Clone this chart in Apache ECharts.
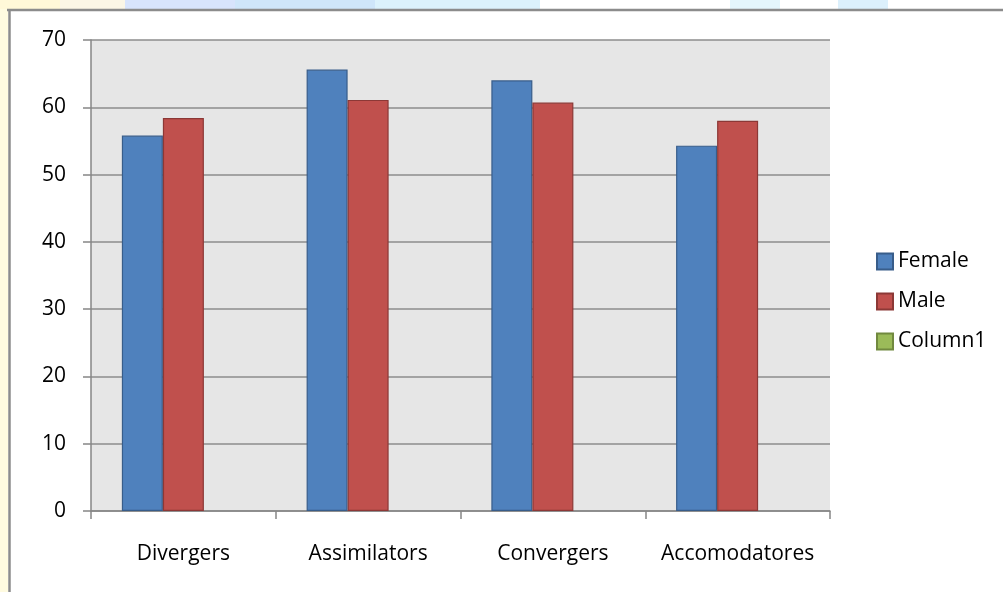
<!DOCTYPE html>
<html>
<head>
<meta charset="utf-8">
<script src="https://cdn.jsdelivr.net/npm/echarts@6/dist/echarts.min.js"></script>
<style>
html,body{margin:0;padding:0;background:#fff;}
#c{width:1003px;height:592px;}
</style>
</head>
<body>
<div id="c"></div>
<script>
const categories = ['Divergers', 'Assimilators', 'Convergers', 'Accomodatores'];
const female = [55.8, 65.6, 64.0, 54.3];
const male = [58.4, 61.1, 60.7, 58.0];
const column1 = [null, null, null, null];
const yTicks = [0, 10, 20, 30, 40, 50, 60, 70];

const FONT = 'Open Sans';
const FS = 21;
const chart = echarts.init(document.getElementById('c'), null, {renderer: 'canvas'});

const option = {
  animation: false,
  backgroundColor: '#ffffff',
  textStyle: {fontFamily: FONT},
  graphic: [
    {type: 'rect', z: -10, shape: {x: 0, y: 0, width: 8, height: 592}, style: {fill: '#fffbe0'}},
    {type: 'rect', z: -10, shape: {x: 0, y: 0, width: 125, height: 9}, style: {fill: '#fff8d8'}},
    {type: 'rect', z: -10, shape: {x: 60, y: 0, width: 65, height: 9}, style: {fill: '#fbf6e6'}},
    {type: 'rect', z: -10, shape: {x: 125, y: 0, width: 110, height: 9}, style: {fill: '#d8e4fc'}},
    {type: 'rect', z: -10, shape: {x: 235, y: 0, width: 140, height: 9}, style: {fill: '#cfe6fa'}},
    {type: 'rect', z: -10, shape: {x: 375, y: 0, width: 165, height: 9}, style: {fill: '#dcf2fc'}},
    {type: 'rect', z: -10, shape: {x: 730, y: 0, width: 50, height: 9}, style: {fill: '#e4f6fc'}},
    {type: 'rect', z: -10, shape: {x: 838, y: 0, width: 50, height: 9}, style: {fill: '#dcf0fc'}},
    {type: 'line', z: 10, shape: {x1: 7, y1: 10, x2: 1003, y2: 10}, style: {stroke: '#8c8c8c', lineWidth: 2.5}},
    {type: 'line', z: 10, shape: {x1: 9.5, y1: 9, x2: 9.5, y2: 592}, style: {stroke: '#8c8c8c', lineWidth: 2.5}}
  ],
  legend: {
    orient: 'vertical',
    left: 871,
    top: 246,
    itemWidth: 16,
    itemHeight: 16,
    itemGap: 19,
    icon: 'rect',
    textStyle: {fontFamily: FONT, fontSize: FS, color: '#000', padding: [0, 0, 0, 0]},
    data: ['Female', 'Male', 'Column1']
  },
  grid: {left: 91, right: 173, top: 40, bottom: 81, containLabel: false,
    show: true, backgroundColor: '#e6e6e6', borderWidth: 0},
  xAxis: {
    type: 'category',
    data: categories,
    axisLine: {show: true, lineStyle: {color: '#868686', width: 1.5}},
    axisTick: {show: true, interval: 0, alignWithLabel: false, length: 8, lineStyle: {color: '#868686', width: 1.5}},
    axisLabel: {interval: 0, color: '#000', fontFamily: FONT, fontSize: FS, margin: 33},
    splitLine: {show: false}
  },
  yAxis: {
    type: 'value',
    min: 0,
    max: 70,
    interval: 10,
    axisLine: {show: true, lineStyle: {color: '#868686', width: 1.5}},
    axisTick: {show: true, length: 8, lineStyle: {color: '#868686', width: 1.5}},
    axisLabel: {color: '#000', fontFamily: FONT, fontSize: FS, margin: 25,
      formatter: v => yTicks.includes(v) ? String(v) : ''},
    splitLine: {show: true, lineStyle: {color: '#8c8c8c', width: 1.5}}
  },
  series: [
    {name: 'Female', type: 'bar', data: female, barGap: '0%', barCategoryGap: '33.4%',
      itemStyle: {color: '#4f81bd', borderColor: '#385d8a', borderWidth: 1.2}},
    {name: 'Male', type: 'bar', data: male, barGap: '0%', barCategoryGap: '33.4%',
      itemStyle: {color: '#c0504d', borderColor: '#8c3836', borderWidth: 1.2}},
    {name: 'Column1', type: 'bar', data: column1, barGap: '0%', barCategoryGap: '33.4%',
      itemStyle: {color: '#9bbb59', borderColor: '#71893f', borderWidth: 1.2}}
  ]
};
chart.setOption(option);
</script>
</body>
</html>
